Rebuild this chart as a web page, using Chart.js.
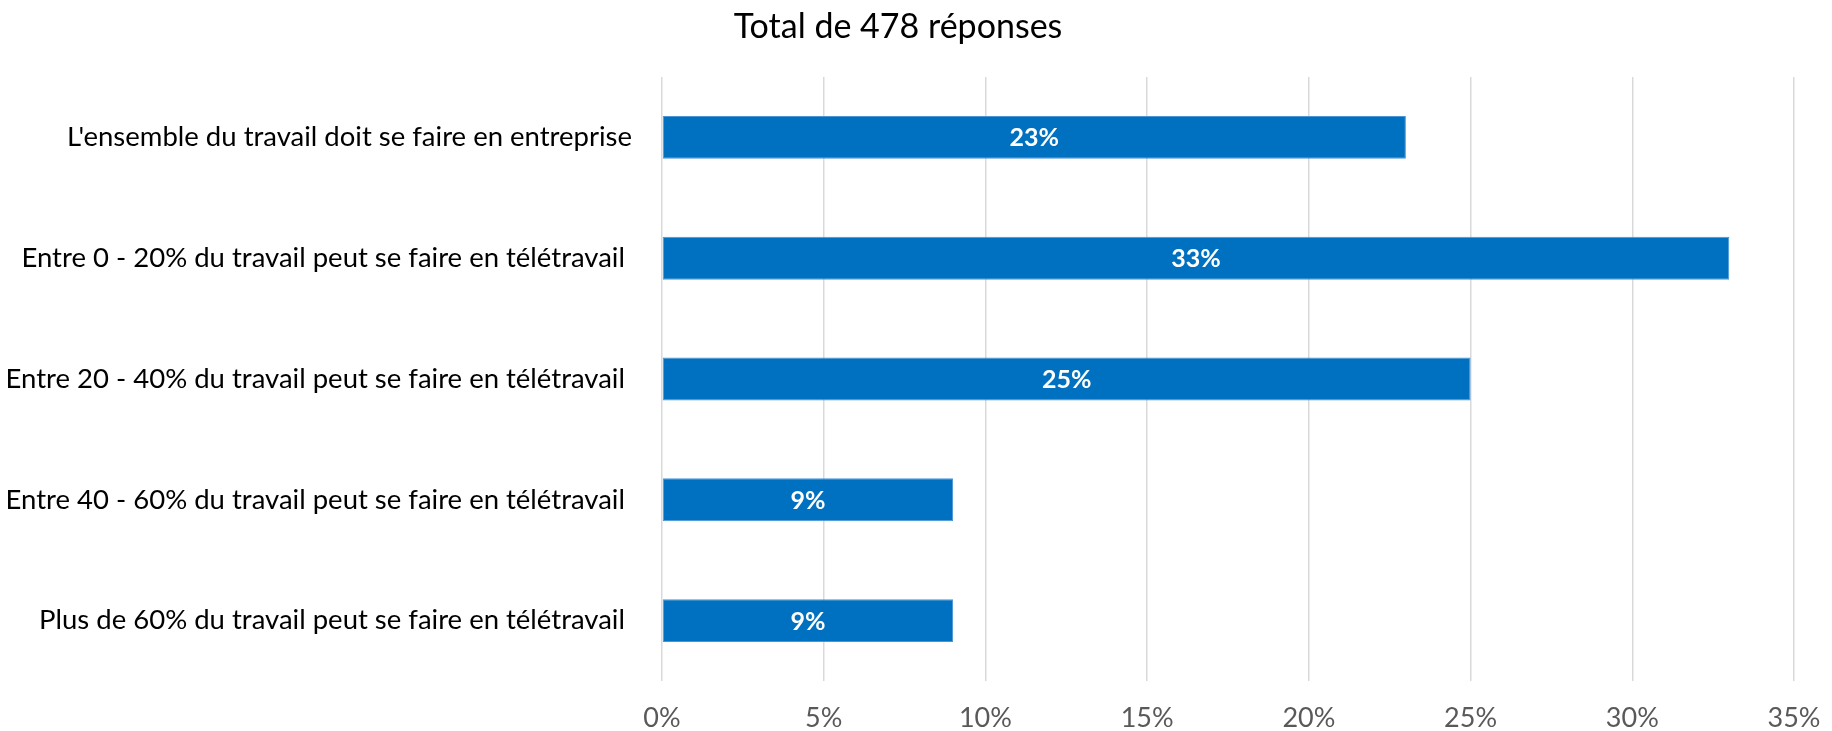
<!DOCTYPE html>
<html lang="fr">
<head>
<meta charset="utf-8">
<title>Total de 478 réponses</title>
<script src="https://cdn.jsdelivr.net/npm/chart.js@4/dist/chart.umd.min.js"></script>
<style>
  html, body { margin: 0; padding: 0; background: #ffffff; }
  #wrap { position: relative; width: 1832px; height: 731px; }
</style>
</head>
<body>
<div id="wrap"><canvas id="chart" width="1832" height="731"></canvas></div>
<script>
// Survey answers about how much of the work can be done remotely
const chartTitle = 'Total de 478 réponses';
const categories = [
  "L'ensemble du travail doit se faire en entreprise",
  'Entre 0 - 20% du travail peut se faire en télétravail ',
  'Entre 20 - 40% du travail peut se faire en télétravail ',
  'Entre 40 - 60% du travail peut se faire en télétravail ',
  'Plus de 60% du travail peut se faire en télétravail '
];
const shares = [23, 33, 25, 9, 9];          // percent of respondents
const axisTicks = [0, 5, 10, 15, 20, 25, 30, 35];

const FONT = "Lato, 'Open Sans', sans-serif";
const BAR_BLUE = '#0070C0';

// Title above the chart
const titlePlugin = {
  id: 'topTitle',
  afterDraw(chart) {
    const ctx = chart.ctx;
    ctx.save();
    ctx.font = `34px ${FONT}`;
    ctx.fillStyle = '#000000';
    ctx.textAlign = 'center';
    ctx.textBaseline = 'middle';
    ctx.fillText(chartTitle, 898, 27);
    ctx.restore();
  }
};

// White value labels in the middle of each bar
const valueLabels = {
  id: 'valueLabels',
  afterDatasetsDraw(chart) {
    const ctx = chart.ctx;
    const meta = chart.getDatasetMeta(0);
    ctx.save();
    ctx.font = `bold 25px ${FONT}`;
    ctx.fillStyle = '#ffffff';
    ctx.textAlign = 'center';
    ctx.textBaseline = 'middle';
    meta.data.forEach((bar, i) => {
      const cx = (bar.x + bar.base) / 2;
      ctx.fillText(shares[i] + '%', cx, bar.y + 1);
    });
    ctx.restore();
  }
};

new Chart(document.getElementById('chart'), {
  type: 'bar',
  data: {
    labels: categories,
    datasets: [{
      data: shares,
      backgroundColor: BAR_BLUE,
      borderColor: '#4b95d6',
      borderWidth: 1,
      borderSkipped: false,
      barPercentage: 0.355,
      categoryPercentage: 1
    }]
  },
  options: {
    indexAxis: 'y',
    responsive: false,
    animation: false,
    devicePixelRatio: 1,
    layout: { padding: { top: 77, right: 38, left: 0, bottom: 0 } },
    plugins: {
      legend: { display: false },
      title: { display: false },
      tooltip: { enabled: false }
    },
    scales: {
      x: {
        min: 0,
        max: 35,
        afterBuildTicks(scale) {
          scale.ticks = axisTicks.map(v => ({ value: v }));
        },
        // fixed axis height; the right margin comes from the layout padding only
        afterFit(scale) {
          scale.height = 50;
          scale.paddingLeft = 0;
          scale.paddingRight = 0;
        },
        grid: { color: '#d9d9d9', lineWidth: 1.5, drawTicks: false },
        border: { display: false },
        ticks: {
          padding: 21,
          color: '#595959',
          font: { family: FONT, size: 27 },
          callback: v => v + '%'
        }
      },
      y: {
        // fixed axis width; the label gap should not pad the plot vertically
        afterFit(scale) {
          scale.width = 662;
          scale.paddingTop = 0;
          scale.paddingBottom = 0;
        },
        grid: { display: false, drawTicks: false },
        border: { display: false },
        ticks: {
          padding: 30,
          color: '#000000',
          font: { family: FONT, size: 27.5 }
        }
      }
    }
  },
  plugins: [titlePlugin, valueLabels]
});
</script>
</body>
</html>
